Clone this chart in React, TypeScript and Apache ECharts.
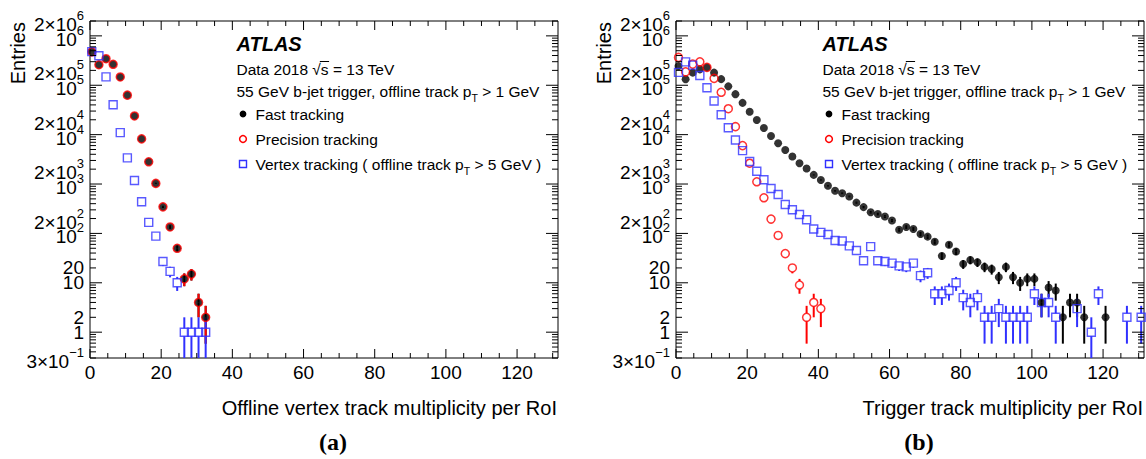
import React, { useEffect, useRef } from 'react';
import * as echarts from 'echarts';

// ---------- data ----------
const leftBins = [0.5, 2.5, 4.5, 6.5, 8.5, 10.5, 12.5, 14.5, 16.5, 18.5, 20.5, 22.5, 24.5, 26.5, 28.5, 30.5, 32.5];
const leftFast = [475000, 260000, 345000, 266000, 147000, 63000, 23900, 8200, 2820, 1030, 345, 135, 50, 12, 15, 4, 2];
const leftPrecision = [475000, 260000, 345000, 266000, 147000, 63000, 23900, 8200, 2820, 1030, 345, 135, 50, 12, 15, 4, 2];
const leftVertex = [480000, 397000, 148000, 40200, 11000, 3390, 1180, 437, 167, 88, 27, 17, 10, 1, 1, 1, 1];

const rightBins = [
  0.7, 2.7, 4.7, 6.7, 8.7, 10.7, 12.7, 14.7, 16.7, 18.7,
  20.7, 22.7, 24.7, 26.7, 28.7, 30.7, 32.7, 34.7, 36.7, 38.7,
  40.7, 42.7, 44.7, 46.7, 48.7, 50.7, 52.7, 54.7, 56.7, 58.7,
  60.7, 62.7, 64.7, 66.7, 68.7, 70.7, 72.7, 74.7, 76.7, 78.7,
  80.7, 82.7, 84.7, 86.7, 88.7, 90.7, 92.7, 94.7, 96.7, 98.7,
  100.7, 102.7, 104.7, 106.7, 108.7, 110.7, 112.7, 114.7, 116.7, 118.7,
  120.7, 122.7, 124.7, 126.7, 128.7, 130.7,
];
const rightFast = [
  244000, 132000, 180000, 210000, 230000, 180000, 133000, 95000, 66000, 44000,
  29000, 19800, 13600, 9400, 6700, 4900, 3600, 2640, 2060, 1530,
  1210, 920, 730, 650, 560, 420, 341, 268, 247, 220,
  183, 119, 135, 123, 97, 86, 68, 35, 59, 43,
  24, 29, 26, 21, 19, 13, 21, 13, 10, 12,
  12, 4, 8, 7, 2, 4, 4, 2, null, null,
  2, null, null, null, null, null,
];
const rightPrecision = [
  366000, 187000, 268000, 298000, 230000, 138000, 72000, 33500, 14500, 6000,
  2640, 1110, 526, 195, 91, 39, 20, 9, 2, 4,
  3,
];
const rightVertex = [
  182000, 298000, 256000, 158000, 89000, 48000, 25300, 13800, 7800, 4750,
  2850, 1820, 1220, 813, 614, 385, 301, 242, 189, 123,
  105, 95, 72, 70, 56, 45, 28, 54, 28, 27,
  25, 22, 21, 25, 14, 16, 6, 6, 7, 10,
  5, 4, 5, 2, 2, 3, 2, 2, 2, 2,
  6, 4, 4, 2, null, null, 3, null, 1, 6,
  null, null, null, 2, null, 2,
];

// y-axis tick labels (mantissa part, exponent part)
const yLabelValues = [2e6, 1e6, 2e5, 1e5, 2e4, 1e4, 2e3, 1e3, 200, 100, 20, 10, 2, 1, 0.3];
const yLabelBase = ['2×10', '10', '2×10', '10', '2×10', '10', '2×10', '10', '2×10', '10', '20', '10', '2', '1', '3×10'];
const yLabelExp = ['6', '6', '5', '5', '4', '4', '3', '3', '2', '2', '', '', '', '', '−1'];

const xTitles = ['Offline vertex track multiplicity per RoI', 'Trigger track multiplicity per RoI'];
const captions = ['(a)', '(b)'];
const yTitle = 'Entries';
const atlasLabel = 'ATLAS';
const dataLabel = ['Data 2018 ', '√', 's', ' = 13 TeV'];
const triggerLabel = ['55 GeV b-jet trigger, offline track p', 'T', ' > 1 GeV'];
const legendLabels = [
  ['Fast tracking'],
  ['Precision tracking'],
  ['Vertex tracking ( offline track p', 'T', ' > 5 GeV )'],
];

const X_MIN = 0;
const X_MAX = 131.5;
const Y_MIN = 0.3;
const Y_MAX = 2e6;

const BLACK = '#000000';
const RED = '#ff0000';
const BLUE = '#3030ff';
const FAM = '"Liberation Sans", Arial, Helvetica, sans-serif';

function pairs(bins: number[], vals: (number | null)[]) {
  const out: number[][] = [];
  bins.forEach((x, i) => {
    const v = vals[i];
    if (v != null && v > 0) out.push([x, v]);
  });
  return out;
}

export default function App() {
  const ref = useRef<HTMLDivElement>(null);
  useEffect(() => {
    const el = ref.current!;
    const chart = echarts.init(el, null, { renderer: 'svg' });
    const gridLefts = [90, 676];
    const gridW = 468;
    const gridTop = 21;
    const gridH = 337;

    const errSeries = (pi: number, data: number[][], color: string, gap: number) => ({
      type: 'custom',
      xAxisIndex: pi,
      yAxisIndex: pi,
      data,
      encode: { x: 0, y: 1 },
      silent: true,
      renderItem: (_params: any, api: any) => {
        const x = api.value(0);
        const v = api.value(1);
        const e = Math.sqrt(v);
        const p = api.coord([x, v]);
        const top = api.coord([x, Math.min(v + e, Y_MAX)]);
        const bot = api.coord([x, Math.max(v - e, Y_MIN)]);
        const children: any[] = [];
        if (p[1] - gap - top[1] > 0.5) {
          children.push({ type: 'line', shape: { x1: p[0], y1: p[1] - gap, x2: p[0], y2: top[1] }, style: { stroke: color, lineWidth: 2 } });
        }
        if (bot[1] - (p[1] + gap) > 0.5) {
          children.push({ type: 'line', shape: { x1: p[0], y1: p[1] + gap, x2: p[0], y2: bot[1] }, style: { stroke: color, lineWidth: 2 } });
        }
        return { type: 'group', children };
      },
    });
    const markSeries = (pi: number, data: number[][], symbol: string, itemStyle: any) => ({
      type: 'scatter',
      xAxisIndex: pi,
      yAxisIndex: pi,
      data,
      symbol,
      symbolSize: 8,
      itemStyle,
      silent: true,
    });

    const panels = [
      { bins: leftBins, fast: leftFast, prec: leftPrecision, vtx: leftVertex },
      { bins: rightBins, fast: rightFast, prec: rightPrecision, vtx: rightVertex },
    ];
    const series: any[] = [];
    panels.forEach((p, pi) => {
      const f = pairs(p.bins, p.fast);
      const r = pairs(p.bins, p.prec as any);
      const b = pairs(p.bins, p.vtx as any);
      series.push(errSeries(pi, f, BLACK, 0));
      series.push(markSeries(pi, f, 'circle', { color: BLACK }));
      series.push(errSeries(pi, r, RED, 4));
      series.push(markSeries(pi, r, 'circle', { color: 'rgba(0,0,0,0)', borderColor: RED, borderWidth: 1.5 }));
      series.push(errSeries(pi, b, BLUE, 4));
      series.push(markSeries(pi, b, 'rect', { color: 'rgba(0,0,0,0)', borderColor: BLUE, borderWidth: 1.4 }));
    });

    chart.setOption({
      animation: false,
      backgroundColor: '#ffffff',
      grid: gridLefts.map((l) => ({
        left: l, top: gridTop, width: gridW, height: gridH,
        show: true, borderColor: '#000', borderWidth: 1, backgroundColor: 'transparent',
      })),
      xAxis: [0, 1].map((i) => ({
        type: 'value', gridIndex: i, min: X_MIN, max: X_MAX, interval: 20,
        axisLine: { show: false }, axisTick: { show: false }, splitLine: { show: false },
        axisLabel: { fontSize: 19, color: '#000', fontFamily: FAM, margin: 5, showMaxLabel: false },
      })),
      yAxis: [0, 1].map((i) => ({
        type: 'log', gridIndex: i, min: Y_MIN, max: Y_MAX, logBase: 10,
        axisLine: { show: false }, axisTick: { show: false }, splitLine: { show: false },
        axisLabel: { show: false },
      })),
      series,
    });

    // ---- overlay: ticks, labels, legend ----
    const ctx = document.createElement('canvas').getContext('2d')!;
    const measure = (t: string, font: string) => { ctx.font = font; return ctx.measureText(t).width; };
    const txt = (x: number, y: number, text: string, font: string, align = 'left', fill = '#000', extra: any = {}) => ({
      type: 'text', x, y, silent: true, z: 10,
      style: { text, font, fill, textAlign: align, textVerticalAlign: 'middle', align, verticalAlign: 'middle' },
      ...extra,
    });
    const ln = (x1: number, y1: number, x2: number, y2: number, stroke = '#000', lw = 1) => ({
      type: 'line', silent: true, z: 10, shape: { x1, y1, x2, y2 }, style: { stroke, lineWidth: lw },
    });
    const g: any[] = [];
    const F19 = `19px ${FAM}`;
    const F13 = `13px ${FAM}`;
    const FL = `15.5px ${FAM}`;
    const FS = `10.5px ${FAM}`;

    // text with subscripts: parts alternate normal / subscript
    const subText = (x: number, y: number, parts: string[]) => {
      let cx = x;
      parts.forEach((t, k) => {
        const isSub = k % 2 === 1;
        const font = isSub ? FS : FL;
        g.push(txt(cx, isSub ? y + 7 : y, t, font));
        cx += measure(t, font);
      });
    };

    [0, 1].forEach((pi) => {
      const xp = (v: number) => chart.convertToPixel({ xAxisIndex: pi } as any, v) as number;
      const yp = (v: number) => chart.convertToPixel({ yAxisIndex: pi } as any, v) as number;
      const x0 = xp(X_MIN), x1 = xp(X_MAX), y0 = yp(Y_MIN), y1 = yp(Y_MAX);
      // y ticks (log)
      for (let n = -1; n <= 6; n++) {
        for (let m = 1; m <= 9; m++) {
          const v = m * Math.pow(10, n);
          if (v < Y_MIN * 0.999 || v > Y_MAX * 1.001) continue;
          const y = yp(v);
          const L = m === 1 ? 12 : 6;
          g.push(ln(x0, y, x0 + L, y));
          g.push(ln(x1, y, x1 - L, y));
        }
      }
      // x ticks
      for (let t = 0; t <= 130; t += 5) {
        const x = xp(t);
        const L = t % 20 === 0 ? 9 : 5;
        g.push(ln(x, y0, x, y0 - L));
        g.push(ln(x, y1, x, y1 + L));
      }
      // y labels
      const xr = x0 - 6;
      yLabelValues.forEach((v, k) => {
        const y = yp(v);
        const ex = yLabelExp[k];
        if (ex) {
          const ew = measure(ex, F13);
          g.push(txt(xr - ew, y - 5.5, ex, F13, 'left'));
          g.push(txt(xr - ew, y + 3.5, yLabelBase[k], F19, 'right'));
        } else {
          g.push(txt(xr, y, yLabelBase[k], F19, 'right'));
        }
      });
      // axis titles
      g.push(txt(x1 - 1, 408, xTitles[pi], `20px ${FAM}`, 'right'));
      g.push(txt(x0 - 72, 22, yTitle, `20px ${FAM}`, 'right', '#000', { rotation: Math.PI / 2 }));
      g.push(txt((x0 + x1) / 2 + 9, 442, captions[pi], `bold 24px "Liberation Serif", "Times New Roman", serif`, 'center'));

      // legend block
      const lx = x0 + 146.5;
      g.push(txt(lx, 44, atlasLabel, `italic bold 20px ${FAM}`));
      // Data 2018 sqrt(s)
      let cx = lx;
      const yD = 69;
      dataLabel.forEach((t, k) => {
        g.push(txt(cx, yD, t, FL));
        const w = measure(t, FL);
        if (k === 2) g.push(ln(cx - 1, yD - 7.5, cx + w + 0.5, yD - 7.5, '#000', 1));
        cx += w;
      });
      subText(lx, 91, triggerLabel);
      const mx = x0 + 153;
      const tx = x0 + 165.5;
      const ly = [114, 139, 164];
      g.push({ type: 'circle', silent: true, z: 10, shape: { cx: mx, cy: ly[0], r: 3.4 }, style: { fill: BLACK } });
      g.push({ type: 'circle', silent: true, z: 10, shape: { cx: mx, cy: ly[1], r: 3.4 }, style: { fill: 'none', stroke: RED, lineWidth: 1.5 } });
      g.push({ type: 'rect', silent: true, z: 10, shape: { x: mx - 3.5, y: ly[2] - 3.5, width: 7, height: 7 }, style: { fill: 'none', stroke: BLUE, lineWidth: 1.4 } });
      legendLabels.forEach((parts, k) => subText(tx, ly[k], parts));
    });

    chart.setOption({ graphic: { elements: g } });
    return () => chart.dispose();
  }, []);
  return <div ref={ref} style={{ position: 'absolute', left: 0, top: 0, width: 1146, height: 459, background: '#fff' }} />;
}
